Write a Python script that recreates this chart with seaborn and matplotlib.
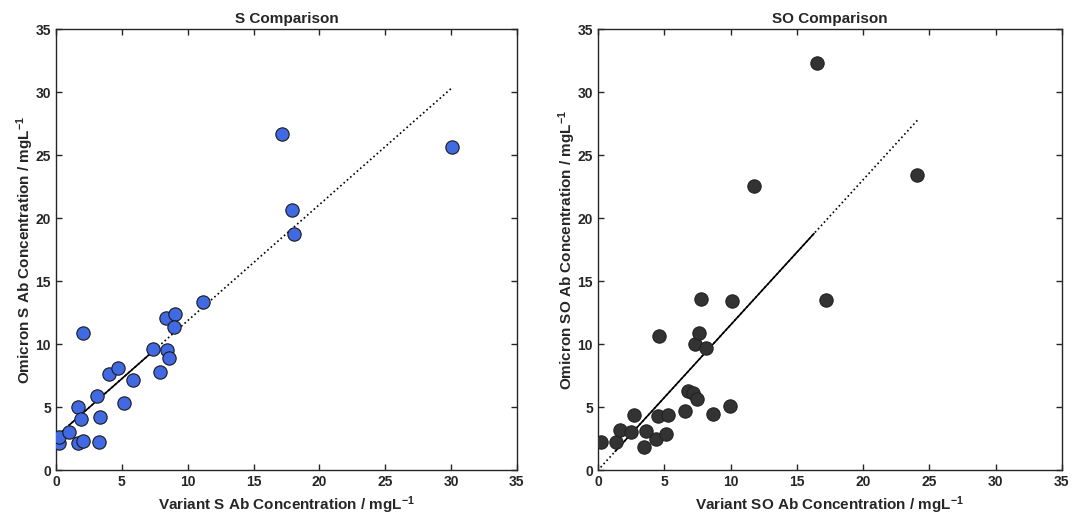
import numpy as np
import pandas as pd
import matplotlib
matplotlib.use('Agg')
import matplotlib.pyplot as plt
import seaborn as sns

# S comparison (variant vs omicron)
s_variant = [0.2, 0.2, 1.0, 1.7, 2.05, 1.7, 1.9, 2.05, 3.3, 3.35, 3.1, 4.05, 4.7, 5.15,
             5.85, 7.4, 7.9, 8.4, 8.55, 8.35, 9.05, 8.95, 11.15, 17.2, 17.9, 18.1, 30.05]
s_omicron = [2.15, 2.6, 3.05, 2.15, 2.3, 5.0, 4.05, 10.85, 2.25, 4.2, 5.85, 7.65, 8.1, 5.35,
             7.15, 9.6, 7.8, 9.5, 8.9, 12.1, 12.4, 11.35, 13.35, 26.7, 20.65, 18.7, 25.6]

# SO comparison
so_variant = [0.2, 1.35, 1.7, 2.5, 2.75, 3.45, 3.65, 4.35, 4.5, 4.6, 5.25, 5.1, 6.6, 6.8,
              7.15, 7.5, 7.3, 7.6, 8.15, 8.65, 9.95, 7.8, 10.1, 17.2, 16.5, 11.8, 24.1]
so_omicron = [2.25, 2.25, 3.15, 3.05, 4.4, 1.8, 3.1, 2.5, 4.25, 10.65, 4.35, 2.85, 4.7, 6.25,
              6.15, 5.6, 10.0, 10.85, 9.65, 4.45, 5.1, 13.6, 13.4, 13.5, 32.3, 22.55, 23.45]

# span of the solid part of each fit line
s_solid = (1.0, 7.4)
so_solid = (1.3, 16.3)

df_s = pd.DataFrame({'variant': s_variant, 'omicron': s_omicron})
df_so = pd.DataFrame({'variant': so_variant, 'omicron': so_omicron})

sns.set_style('ticks')
plt.rcParams['font.family'] = ['Liberation Sans', 'DejaVu Sans']
plt.rcParams['mathtext.fontset'] = 'custom'
plt.rcParams['mathtext.rm'] = 'Liberation Sans:bold'
plt.rcParams['mathtext.default'] = 'rm'

fig = plt.figure(figsize=(10.72, 5.23), dpi=100)
ax1 = fig.add_axes([0.0522, 0.1013, 0.4300, 0.8432])
ax2 = fig.add_axes([0.5578, 0.1013, 0.4328, 0.8432])

panels = [
    (ax1, df_s, '#4169E1', '#1a1a1a', s_solid, 'S Comparison',
     'Variant S Ab Concentration / mgL$^{-1}$', 'Omicron S Ab Concentration / mgL$^{-1}$'),
    (ax2, df_so, '#333333', '#222222', so_solid, 'SO Comparison',
     'Variant SO Ab Concentration / mgL$^{-1}$', 'Omicron SO Ab Concentration / mgL$^{-1}$'),
]

for ax, df, fc, ec, solid, title, xlab, ylab in panels:
    sns.scatterplot(data=df, x='variant', y='omicron', ax=ax, color=fc,
                    edgecolor=ec, linewidth=0.8, s=92, zorder=3)

    # least squares fit
    slope, intercept = np.polyfit(df['variant'], df['omicron'], 1)
    xs = np.linspace(df['variant'].min(), df['variant'].max(), 100)
    ax.plot(xs, slope * xs + intercept, ':', color='black', lw=1.2, zorder=2)
    xs2 = np.linspace(solid[0], solid[1], 50)
    ax.plot(xs2, slope * xs2 + intercept, '-', color='black', lw=1.2, zorder=2)

    ax.set_xlim(0, 35)
    ax.set_ylim(0, 35)
    ax.set_xticks(range(0, 36, 5))
    ax.set_yticks(range(0, 36, 5))
    ax.tick_params(direction='in', top=True, right=True, length=4, width=1,
                   labelsize=10, colors='#262626')
    for lab in ax.get_xticklabels() + ax.get_yticklabels():
        lab.set_fontweight('bold')
    for sp in ax.spines.values():
        sp.set_visible(True)
        sp.set_linewidth(1)
        sp.set_color('#262626')
    ax.set_title(title, fontsize=11, fontweight='bold', pad=4)
    ax.set_xlabel(xlab, fontsize=11, fontweight='bold', labelpad=4)
    ax.set_ylabel(ylab, fontsize=11, fontweight='bold', labelpad=0)

plt.savefig('out.png', dpi=100)
plt.close()
